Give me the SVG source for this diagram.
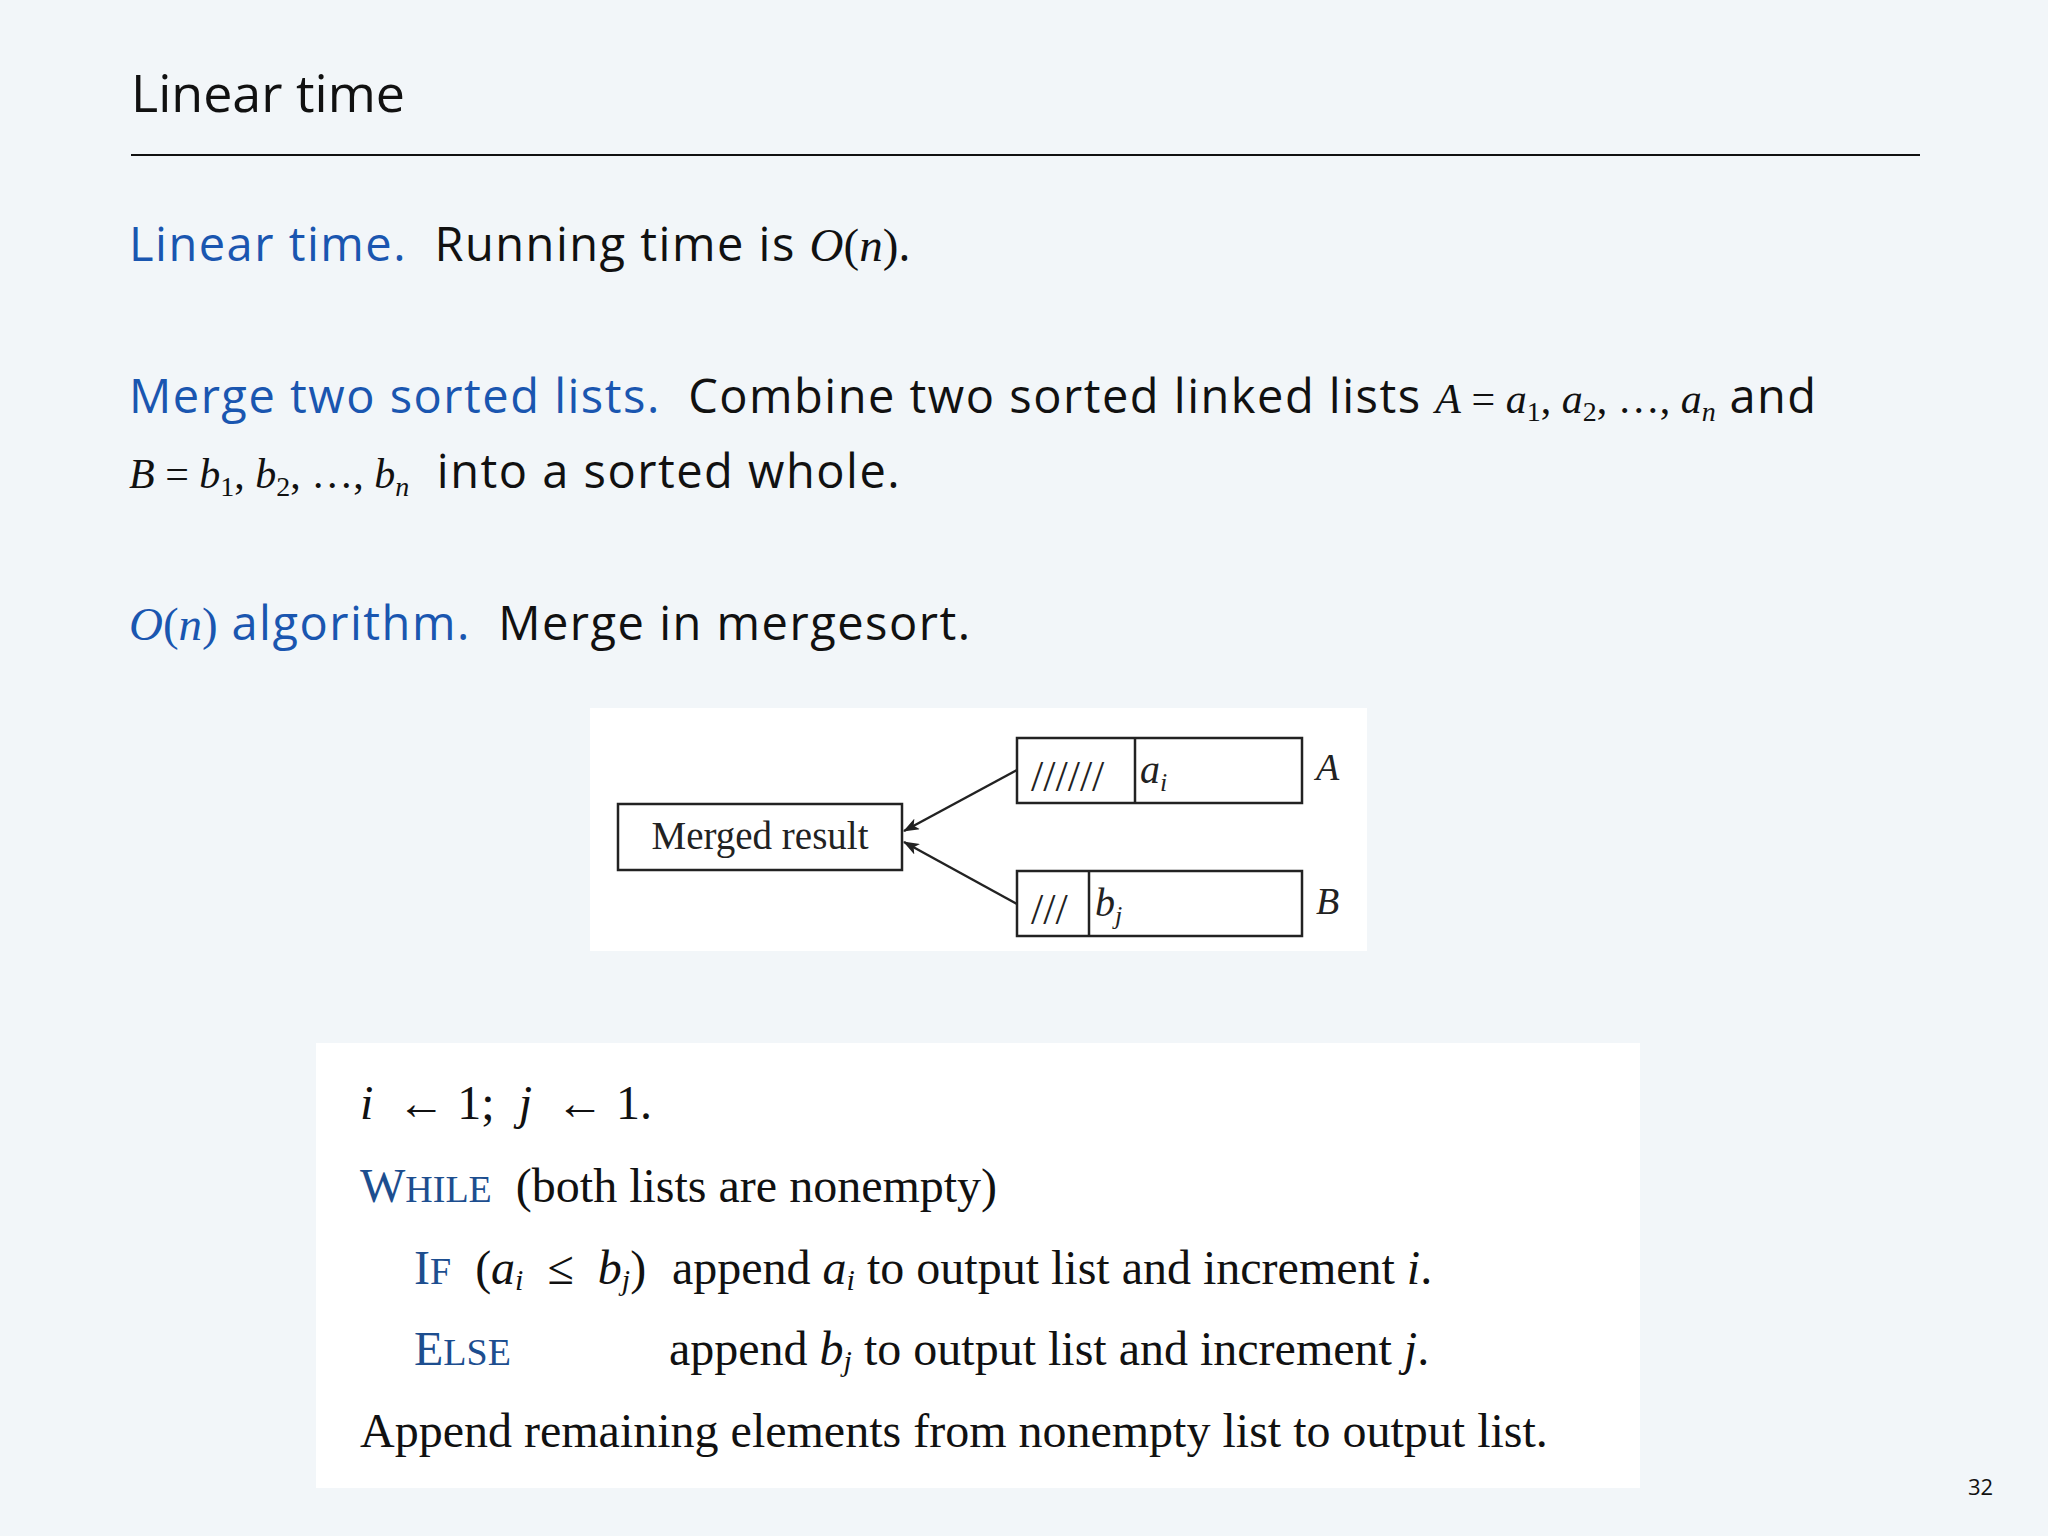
<svg xmlns="http://www.w3.org/2000/svg" width="2048" height="1536" viewBox="0 0 2048 1536" xml:space="preserve">
<style>
text{white-space:pre}
.s{font-family:"Open Sans",Lato,sans-serif;fill:#111}
.t{letter-spacing:1.5px}
.b{fill:#1a56b0}
.m{font-family:"Liberation Serif",serif;font-style:italic;letter-spacing:0}
.r{font-family:"Liberation Serif",serif;letter-spacing:0}
.c{font-family:"Liberation Serif",serif;font-size:48px;fill:#111}
.k{fill:#1d4e8f}
.bx{fill:#fff;stroke:#222;stroke-width:2.5}
.ln{stroke:#222;stroke-width:2.5;fill:none}
</style>
<defs>
<marker id="ar" viewBox="0 0 16 12" refX="15" refY="6" markerWidth="16" markerHeight="12" markerUnits="userSpaceOnUse" orient="auto"><path d="M0,0 L16,6 L0,12 L4,6 z" fill="#222"/></marker>
</defs>
<rect width="2048" height="1536" fill="#f2f6f9"/>
<text x="131" y="112" class="s" font-size="52">Linear time</text>
<line x1="131" y1="155" x2="1920" y2="155" stroke="#111" stroke-width="2"/>
<g class="s t" font-size="47">
<text x="129" y="261"><tspan class="b">Linear time.</tspan>  Running time is <tspan class="m">O</tspan><tspan class="r">(</tspan><tspan class="m">n</tspan><tspan class="r">)</tspan>.</text>
<text x="129" y="413"><tspan class="b">Merge two sorted lists.</tspan>  Combine two sorted linked lists <tspan class="m" font-size="42">A</tspan><tspan class="r" font-size="42"> = </tspan><tspan class="m" font-size="42">a</tspan><tspan class="r" font-size="28" dy="8">1</tspan><tspan class="r" font-size="42" dy="-8">, </tspan><tspan class="m" font-size="42">a</tspan><tspan class="r" font-size="28" dy="8">2</tspan><tspan class="r" font-size="42" dy="-8">, …, </tspan><tspan class="m" font-size="42">a</tspan><tspan class="m" font-size="28" dy="8">n</tspan><tspan dy="-8"> and</tspan></text>
<text x="129" y="488"><tspan class="m" font-size="42">B</tspan><tspan class="r" font-size="42"> = </tspan><tspan class="m" font-size="42">b</tspan><tspan class="r" font-size="28" dy="8">1</tspan><tspan class="r" font-size="42" dy="-8">, </tspan><tspan class="m" font-size="42">b</tspan><tspan class="r" font-size="28" dy="8">2</tspan><tspan class="r" font-size="42" dy="-8">, …, </tspan><tspan class="m" font-size="42">b</tspan><tspan class="m" font-size="28" dy="8">n</tspan><tspan dy="-8">  into a sorted whole.</tspan></text>
<text x="129" y="640"><tspan class="b m">O</tspan><tspan class="b r">(</tspan><tspan class="b m">n</tspan><tspan class="b r">)</tspan><tspan class="b"> algorithm.</tspan>  Merge in mergesort.</text>
</g>
<rect x="590" y="708" width="777" height="243" fill="#fff"/>
<g id="merged"><rect class="bx" x="618" y="804" width="284" height="66"/><text x="760" y="849" text-anchor="middle" class="r" font-size="39" fill="#222">Merged result</text></g>
<g id="listA"><rect class="bx" x="1017" y="738" width="285" height="65"/><line class="ln" x1="1135" y1="738" x2="1135" y2="803"/><text x="1031" y="791" class="r" font-size="44" fill="#222" letter-spacing="-2">//////</text><text x="1140" y="783" class="m" font-size="40" fill="#222">a<tspan font-size="26" dy="8">i</tspan></text><text x="1316" y="780" class="m" font-size="38" fill="#222">A</text></g>
<g id="listB"><rect class="bx" x="1017" y="871" width="285" height="65"/><line class="ln" x1="1089" y1="871" x2="1089" y2="936"/><text x="1031" y="924" class="r" font-size="44" fill="#222" letter-spacing="-2">///</text><text x="1095" y="916" class="m" font-size="40" fill="#222">b<tspan font-size="26" dy="8">j</tspan></text><text x="1316" y="914" class="m" font-size="38" fill="#222">B</text></g>
<g id="connectors"><line class="ln" x1="1017" y1="770" x2="904" y2="831" marker-end="url(#ar)"/><line class="ln" x1="1017" y1="904" x2="904" y2="842" marker-end="url(#ar)"/></g>
<rect x="316" y="1043" width="1324" height="445" fill="#fff"/>
<g class="c">
<text x="360" y="1119"><tspan font-style="italic">i</tspan>  ← 1;  <tspan font-style="italic">j</tspan>  ← 1.</text>
<text x="360" y="1202"><tspan class="k">W<tspan font-size="38">HILE</tspan></tspan>  (both lists are nonempty)</text>
<text x="414" y="1284"><tspan class="k">I<tspan font-size="38">F</tspan></tspan>  (<tspan font-style="italic">a<tspan font-size="30" dy="6">i</tspan></tspan><tspan dy="-6">  ≤  </tspan><tspan font-style="italic">b<tspan font-size="30" dy="6">j</tspan></tspan><tspan dy="-6">)</tspan></text>
<text x="672" y="1284">append <tspan font-style="italic">a<tspan font-size="30" dy="6">i</tspan></tspan><tspan dy="-6"> to output list and increment </tspan><tspan font-style="italic">i</tspan>.</text>
<text x="414" y="1365"><tspan class="k">E<tspan font-size="38">LSE</tspan></tspan></text>
<text x="669" y="1365">append <tspan font-style="italic">b<tspan font-size="30" dy="6">j</tspan></tspan><tspan dy="-6"> to output list and increment </tspan><tspan font-style="italic">j</tspan>.</text>
<text x="360" y="1447">Append remaining elements from nonempty list to output list.</text>
</g>
<text x="1968" y="1495" class="s" font-size="22">32</text>
</svg>
